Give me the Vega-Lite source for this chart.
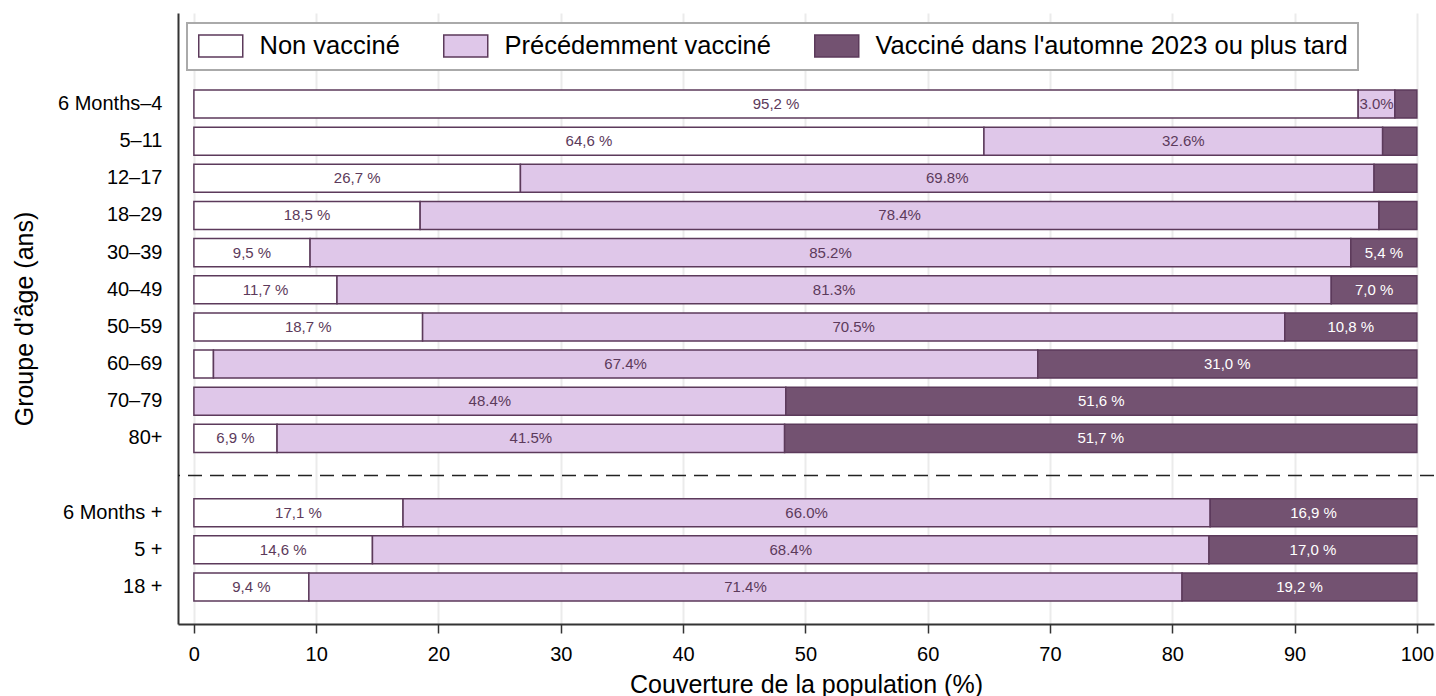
{
  "$schema": "https://vega.github.io/schema/vega-lite/v6.json",
  "width": 1256,
  "height": 611,
  "autosize": {"type": "none"},
  "padding": {"left": 178, "top": 13, "right": 2, "bottom": 72},
  "background": "white",
  "config": {
    "view": {"stroke": null},
    "font": "Liberation Sans",
    "legend": {"strokeWidth": 2},
    "axis": {"labelFont": "Liberation Sans", "titleFont": "Liberation Sans"}
  },
  "data": {
    "values": [
      {"group": "6 Months–4", "status": "Non vacciné", "rank": 1, "value": 95.2, "label": "95,2 %"},
      {"group": "6 Months–4", "status": "Précédemment vacciné", "rank": 2, "value": 3.0, "label": "3.0%"},
      {"group": "6 Months–4", "status": "Vacciné dans l'automne 2023 ou plus tard", "rank": 3, "value": 1.8, "label": null},
      {"group": "5–11", "status": "Non vacciné", "rank": 1, "value": 64.6, "label": "64,6 %"},
      {"group": "5–11", "status": "Précédemment vacciné", "rank": 2, "value": 32.6, "label": "32.6%"},
      {"group": "5–11", "status": "Vacciné dans l'automne 2023 ou plus tard", "rank": 3, "value": 2.8, "label": null},
      {"group": "12–17", "status": "Non vacciné", "rank": 1, "value": 26.7, "label": "26,7 %"},
      {"group": "12–17", "status": "Précédemment vacciné", "rank": 2, "value": 69.8, "label": "69.8%"},
      {"group": "12–17", "status": "Vacciné dans l'automne 2023 ou plus tard", "rank": 3, "value": 3.5, "label": null},
      {"group": "18–29", "status": "Non vacciné", "rank": 1, "value": 18.5, "label": "18,5 %"},
      {"group": "18–29", "status": "Précédemment vacciné", "rank": 2, "value": 78.4, "label": "78.4%"},
      {"group": "18–29", "status": "Vacciné dans l'automne 2023 ou plus tard", "rank": 3, "value": 3.1, "label": null},
      {"group": "30–39", "status": "Non vacciné", "rank": 1, "value": 9.5, "label": "9,5 %"},
      {"group": "30–39", "status": "Précédemment vacciné", "rank": 2, "value": 85.1, "label": "85.2%"},
      {"group": "30–39", "status": "Vacciné dans l'automne 2023 ou plus tard", "rank": 3, "value": 5.4, "label": "5,4 %"},
      {"group": "40–49", "status": "Non vacciné", "rank": 1, "value": 11.7, "label": "11,7 %"},
      {"group": "40–49", "status": "Précédemment vacciné", "rank": 2, "value": 81.3, "label": "81.3%"},
      {"group": "40–49", "status": "Vacciné dans l'automne 2023 ou plus tard", "rank": 3, "value": 7.0, "label": "7,0 %"},
      {"group": "50–59", "status": "Non vacciné", "rank": 1, "value": 18.7, "label": "18,7 %"},
      {"group": "50–59", "status": "Précédemment vacciné", "rank": 2, "value": 70.5, "label": "70.5%"},
      {"group": "50–59", "status": "Vacciné dans l'automne 2023 ou plus tard", "rank": 3, "value": 10.8, "label": "10,8 %"},
      {"group": "60–69", "status": "Non vacciné", "rank": 1, "value": 1.6, "label": null},
      {"group": "60–69", "status": "Précédemment vacciné", "rank": 2, "value": 67.4, "label": "67.4%"},
      {"group": "60–69", "status": "Vacciné dans l'automne 2023 ou plus tard", "rank": 3, "value": 31.0, "label": "31,0 %"},
      {"group": "70–79", "status": "Précédemment vacciné", "rank": 2, "value": 48.4, "label": "48.4%"},
      {"group": "70–79", "status": "Vacciné dans l'automne 2023 ou plus tard", "rank": 3, "value": 51.6, "label": "51,6 %"},
      {"group": "80+", "status": "Non vacciné", "rank": 1, "value": 6.8, "label": "6,9 %"},
      {"group": "80+", "status": "Précédemment vacciné", "rank": 2, "value": 41.5, "label": "41.5%"},
      {"group": "80+", "status": "Vacciné dans l'automne 2023 ou plus tard", "rank": 3, "value": 51.7, "label": "51,7 %"},
      {"group": "6 Months +", "status": "Non vacciné", "rank": 1, "value": 17.1, "label": "17,1 %"},
      {"group": "6 Months +", "status": "Précédemment vacciné", "rank": 2, "value": 66.0, "label": "66.0%"},
      {"group": "6 Months +", "status": "Vacciné dans l'automne 2023 ou plus tard", "rank": 3, "value": 16.9, "label": "16,9 %"},
      {"group": "5 +", "status": "Non vacciné", "rank": 1, "value": 14.6, "label": "14,6 %"},
      {"group": "5 +", "status": "Précédemment vacciné", "rank": 2, "value": 68.4, "label": "68.4%"},
      {"group": "5 +", "status": "Vacciné dans l'automne 2023 ou plus tard", "rank": 3, "value": 17.0, "label": "17,0 %"},
      {"group": "18 +", "status": "Non vacciné", "rank": 1, "value": 9.4, "label": "9,4 %"},
      {"group": "18 +", "status": "Précédemment vacciné", "rank": 2, "value": 71.4, "label": "71.4%"},
      {"group": "18 +", "status": "Vacciné dans l'automne 2023 ou plus tard", "rank": 3, "value": 19.2, "label": "19,2 %"}
    ]
  },
  "encoding": {
    "y": {
      "field": "group",
      "type": "nominal",
      "title": "Groupe d'âge (ans)",
      "scale": {
        "domain": ["  ", "   ", "6 Months–4", "5–11", "12–17", "18–29", "30–39", "40–49", "50–59", "60–69", "70–79", "80+", " ", "6 Months +", "5 +", "18 +"],
        "paddingInner": 0.245,
        "paddingOuter": 0.346,
        "align": 0.105
      },
      "axis": {
        "ticks": false,
        "labelPadding": 16,
        "labelFontSize": 20,
        "labelColor": "black",
        "titleFontSize": 25,
        "titleFontWeight": "normal",
        "titleColor": "black",
        "titlePadding": 20,
        "domainColor": "#333333",
        "domainWidth": 2,
        "grid": false
      }
    }
  },
  "layer": [
    {
      "mark": {"type": "bar", "stroke": "#5c3a5b", "strokeWidth": 1.5},
      "encoding": {
        "x": {
          "field": "value",
          "type": "quantitative",
          "stack": "zero",
          "title": "Couverture de la population (%)",
          "scale": {"domain": [-1.3, 101.4], "nice": false, "zero": false},
          "axis": {
            "values": [0, 10, 20, 30, 40, 50, 60, 70, 80, 90, 100],
            "tickSize": 9,
            "tickColor": "#333333",
            "tickWidth": 1.5,
            "labelFontSize": 20,
            "labelColor": "black",
            "labelPadding": 11,
            "grid": true,
            "gridColor": "#ebebeb",
            "gridWidth": 2,
            "domainColor": "#333333",
            "domainWidth": 2,
            "titleFontSize": 25,
            "titleFontWeight": "normal",
            "titleColor": "black",
            "titlePadding": 8
          }
        },
        "color": {
          "field": "status",
          "type": "nominal",
          "scale": {
            "domain": ["Non vacciné", "Précédemment vacciné", "Vacciné dans l'automne 2023 ou plus tard"],
            "range": ["#ffffff", "#dfc7e9", "#735271"]
          },
          "legend": {
            "orient": "none",
            "legendX": 9,
            "legendY": 10,
            "direction": "horizontal",
            "title": null,
            "symbolType": "M-1,-1H3V1H-1Z",
            "symbolSize": 484,
            "symbolStrokeColor": "#5c3a5b",
            "symbolStrokeWidth": 1.5,
            "symbolOpacity": 1,
            "labelFontSize": 25.5,
            "labelColor": "black",
            "labelOffset": 37,
            "labelLimit": 0,
            "columnPadding": 40,
            "padding": 10,
            "fillColor": "white",
            "strokeColor": "#aaaaaa"
          }
        },
        "order": {"field": "rank", "type": "quantitative"}
      }
    },
    {
      "transform": [
        {"stack": "value", "groupby": ["group"], "sort": [{"field": "rank", "order": "ascending"}], "as": ["v0", "v1"]},
        {"calculate": "(datum.v0 + datum.v1) / 2", "as": "mid"},
        {"filter": "isValid(datum.label)"}
      ],
      "mark": {"type": "text", "fontSize": 15, "font": "Liberation Sans", "baseline": "middle", "align": "center"},
      "encoding": {
        "x": {"field": "mid", "type": "quantitative", "title": "Couverture de la population (%)"},
        "text": {"field": "label", "type": "nominal"},
        "color": {"condition": {"test": "datum.rank === 3", "value": "#ffffff"}, "value": "#5c3a5b"}
      }
    },
    {
      "data": {"values": [{"group": " "}]},
      "mark": {"type": "rule", "strokeDash": [14, 8], "color": "#222222", "strokeWidth": 1.5},
      "encoding": {}
    }
  ]
}
